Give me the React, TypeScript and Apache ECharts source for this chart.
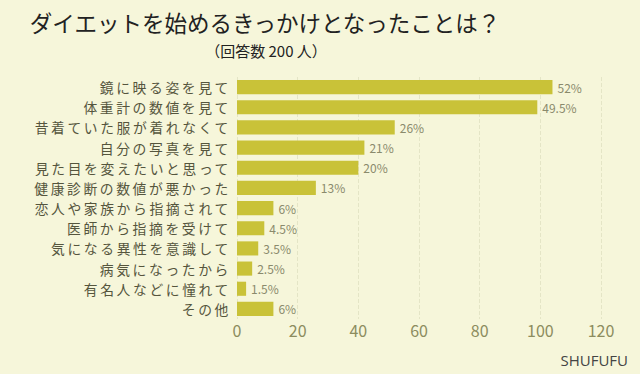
import React, { useEffect, useRef } from "react";
import * as echarts from "echarts";

const categories = [
  "鏡に映る姿を見て",
  "体重計の数値を見て",
  "昔着ていた服が着れなくて",
  "自分の写真を見て",
  "見た目を変えたいと思って",
  "健康診断の数値が悪かった",
  "恋人や家族から指摘されて",
  "医師から指摘を受けて",
  "気になる異性を意識して",
  "病気になったから",
  "有名人などに憧れて",
  "その他",
];
const counts = [104, 99, 52, 42, 40, 26, 12, 9, 7, 5, 3, 12];
const percentLabels = ["52%", "49.5%", "26%", "21%", "20%", "13%", "6%", "4.5%", "3.5%", "2.5%", "1.5%", "6%"];
const xTicks = { min: 0, max: 120, interval: 20 };

const FONT = "'Noto Sans CJK JP', 'Noto Sans', sans-serif";

export default function App() {
  const ref = useRef<HTMLDivElement>(null);
  useEffect(() => {
    if (!ref.current) return;
    const chart = echarts.init(ref.current, null, { renderer: "svg" });
    chart.setOption({
      animation: false,
      backgroundColor: "#f6f6da",
      textStyle: { fontFamily: FONT },
      title: [
        {
          text: "ダイエットを始めるきっかけとなったことは？",
          left: 260,
          top: 6,
          textAlign: "center",
          textStyle: { fontSize: 22.5, fontWeight: "normal", color: "#222", fontFamily: FONT },
        },
        {
          text: "（回答数 200 人）",
          left: 261,
          top: 38,
          textAlign: "center",
          textStyle: { fontSize: 15, fontWeight: "normal", color: "#222", fontFamily: FONT },
        },
        {
          text: "SHUFUFU",
          right: 7,
          top: 347,
          textStyle: { fontSize: 15, fontWeight: "normal", color: "#444", fontFamily: "'Open Sans', sans-serif" },
        },
      ],
      grid: { left: 237, right: 39, top: 77, bottom: 55, containLabel: false },
      xAxis: {
        type: "value",
        min: xTicks.min,
        max: xTicks.max,
        interval: xTicks.interval,
        axisLine: { show: false },
        axisTick: { show: false },
        axisLabel: { fontSize: 16, color: "#8c8c5e", margin: 3, fontFamily: FONT },
        splitLine: { show: true, lineStyle: { color: "#e4e5c6", type: "dashed", width: 1 } },
      },
      yAxis: {
        type: "category",
        data: categories,
        inverse: true,
        axisLine: { show: false },
        axisTick: { show: false },
        axisLabel: { interval: 0, fontSize: 13.8, lineHeight: 16, color: "#55553d", margin: 6, fontFamily: FONT },
        splitLine: { show: false },
      },
      series: [
        {
          type: "bar",
          data: counts,
          barCategoryGap: "30%",
          itemStyle: { color: "#c9c238" },
          label: {
            show: true,
            position: "right",
            distance: 5,
            fontSize: 12,
            color: "#8a8a6c",
            fontFamily: FONT,
            formatter: (p: any) => percentLabels[p.dataIndex],
          },
        },
      ],
    });
    // widen the category labels' letter spacing like the reference typography
    const texts = ref.current.querySelectorAll("text");
    texts.forEach((t) => {
      if (categories.includes((t.textContent || "").trim())) {
        (t as SVGTextElement).style.letterSpacing = "2.6px";
      }
    });
    return () => chart.dispose();
  }, []);
  return <div ref={ref} style={{ width: 640, height: 374, position: "absolute", left: 0, top: 0 }} />;
}
